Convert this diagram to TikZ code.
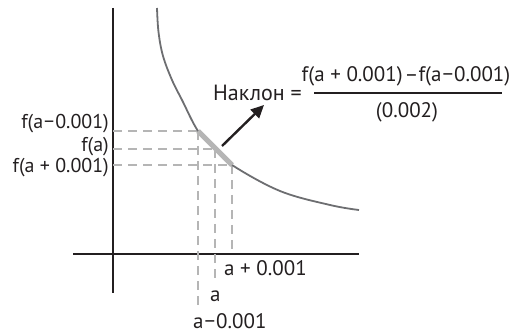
\documentclass[tikz,border=0pt]{standalone}
\usepackage{fontspec}
\setmainfont{PT Sans}
\usetikzlibrary{arrows.meta}
\definecolor{axisc}{HTML}{231F20}
\definecolor{curvec}{HTML}{6D6E71}
\definecolor{dashc}{HTML}{B5B5B5}
\begin{document}
\begin{tikzpicture}[x=1pt,y=-1pt,
  axisline/.style={draw=axisc,line width=2.4pt},
  curveline/.style={draw=curvec,line width=1.8pt},
  guide/.style={draw=dashc,line width=1.8pt,dash pattern=on 9pt off 6pt},
  hilite/.style={draw=dashc,line width=5pt},
  lbl/.style={font=\fontsize{21}{24}\selectfont,text=axisc,inner sep=0pt},
  ylbl/.style={font=\fontsize{20}{22}\selectfont,text=axisc,inner sep=0pt,anchor=east},
  pointer/.style={draw=axisc,line width=2.4pt,-{Triangle[length=13pt,width=12pt]}}]
\useasboundingbox (0,0) rectangle (513,336);
% axes
\coordinate (yt) at (113,8);
\coordinate (yb) at (113,293);
\coordinate (xl) at (73,254);
\coordinate (xr) at (359,254);
\draw[axisline] (yt) -- (yb);
\draw[axisline] (xl) -- (xr);
% points on curve
\coordinate (P1) at (198,131);
\coordinate (P2) at (215,149);
\coordinate (P3) at (232,165);
\coordinate (Y1) at (113,131);
\coordinate (Y2) at (113,149);
\coordinate (Y3) at (113,165);
\coordinate (X1) at (198,308);
\coordinate (X2) at (215,282);
\coordinate (X3) at (232,254);
% guides
\draw[guide] (Y1) -- (P1);
\draw[guide] (Y2) -- (P2);
\draw[guide] (Y3) -- (P3);
\draw[guide] (P1) -- (X1);
\draw[guide] (P2) -- (X2);
\draw[guide] (P3) -- (X3);
% curve
\draw[curveline] plot[smooth,tension=0.6] coordinates {(157,8) (158.5,32) (163,56) (172,80) (182,100) (198,131) (215,149) (232,165) (280,191) (330,205) (359,210)};
\draw[hilite] (P1) -- (P3);
% labels
\node[ylbl] (lfm) at (109,124) {f(a\kern1pt−\kern1pt0.001)};
\node[ylbl] (lf) at (109,146.5) {f(a)};
\node[ylbl] (lfp) at (109,167.5) {f(a + 0.001)};
\node[lbl,anchor=west] (lap) at (224,268) {a + 0.001};
\node[lbl,anchor=west] (la) at (210,296) {a};
\node[lbl,anchor=west] (lam) at (193,321) {a\kern1pt−\kern1pt0.001};
% slope formula
\node[lbl,anchor=east,font=\fontsize{22}{24}\selectfont] (slope) at (302,93) {Наклон =};
\coordinate (fl) at (314,93);
\coordinate (fr) at (502,93);
\draw[draw=axisc,line width=1.4pt] (fl) -- (fr);
\node[lbl] (num) at (406,76) {f(a + 0.001)\kern2pt–f(a\kern1pt−\kern1pt0.001)};
\node[lbl] (den) at (407,112) {(0.002)};
\coordinate (as) at (222,146);
\coordinate (ae) at (264,105);
\draw[pointer] (as) -- (ae);
\end{tikzpicture}
\end{document}
